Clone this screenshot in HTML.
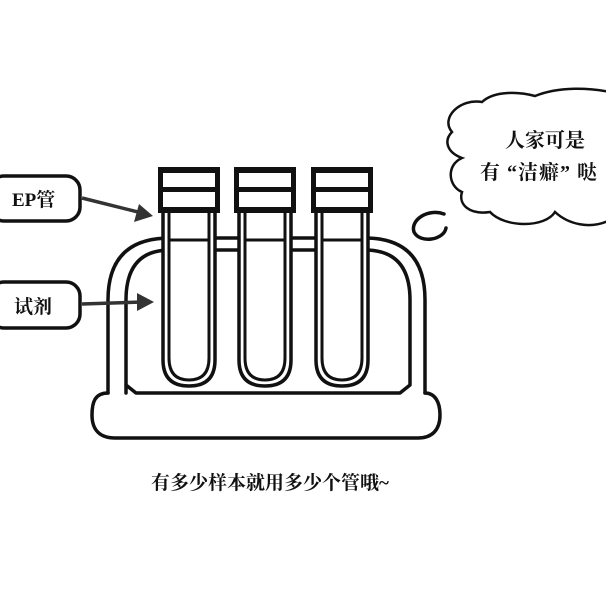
<!DOCTYPE html>
<html><head><meta charset="utf-8"><style>
html,body{margin:0;padding:0;background:#fff}
svg{display:block}
text{font-family:"Liberation Serif","Noto Serif CJK SC",serif;font-weight:bold;fill:#111}
</style></head><body>
<svg width="606" height="606" viewBox="0 0 606 606" xmlns="http://www.w3.org/2000/svg">
<g fill="none" stroke="#111" stroke-width="3.5" stroke-linejoin="round" stroke-linecap="round">
<path d="M108 393 C95 393 92 402 92 415 C92 430 100 438 115 438 L418 438 C432 438 440 430 440 415 C440 402 435 393 425 393"/>
<path d="M108 393 L108 300 Q108 238 170 238 L365 238 Q425 238 425 300 L425 393"/>
<path d="M126 393 L126 300 Q126 250 170 250 L365 250 Q410 250 410 300 L410 385 L400 393 L136 393 L126 385"/>
</g>
<g id="t">
<rect x="162" y="210" width="54" height="178" fill="#fff" stroke="none"/>
<path d="M163 212 L163 360 Q163 386 189 386 Q215 386 215 360 L215 212" fill="none" stroke="#111" stroke-width="3.5"/>
<path d="M169 212 L169 358 Q169 380 189 380 Q209 380 209 358 L209 212" fill="none" stroke="#111" stroke-width="3"/>
<line x1="169" y1="240" x2="209" y2="240" stroke="#111" stroke-width="3"/>
<rect x="158" y="167" width="62" height="46" fill="#111"/>
<rect x="163" y="173" width="52" height="14" fill="#fff"/>
<rect x="163" y="192" width="52" height="15" fill="#fff"/>
</g>
<use href="#t" x="76"/>
<use href="#t" x="153"/>
<g fill="#fff" stroke="#111" stroke-width="3.5">
<rect x="-10" y="176" width="90" height="45" rx="14"/>
<rect x="-10" y="282" width="90" height="46" rx="14"/>
</g>
<text x="12" y="206" font-size="19">EP管</text>
<text x="14" y="313" font-size="19">试剂</text>
<g stroke="#333" stroke-width="3.5">
<line x1="82" y1="198" x2="142" y2="213"/>
<line x1="82" y1="304" x2="142" y2="302"/>
</g>
<polygon points="153,216 139,204 134,222" fill="#333"/>
<polygon points="154,302 137,293 137,311" fill="#333"/>
<path d="M452 132 C440 118 460 98 482 102 C495 90 520 92 535 96 C560 86 590 88 610 92 L610 220 C590 230 568 224 555 212 C545 228 505 228 490 212 C470 215 458 205 462 192 C448 186 446 165 462 158 C446 152 444 140 452 132 Z" fill="#fff" stroke="#111" stroke-width="2.5"/>
<text x="545" y="147" font-size="20" text-anchor="middle">人家可是</text>
<text x="480" y="179" font-size="20" letter-spacing="1">有 “洁癖” 哒</text>
<path d="M444 214 C428 208 410 220 414 232 C420 244 444 240 446 228" fill="none" stroke="#111" stroke-width="3.5" stroke-linecap="round"/>
<text x="270" y="489" font-size="19" text-anchor="middle">有多少样本就用多少个管哦~</text>
</svg>
</body></html>
